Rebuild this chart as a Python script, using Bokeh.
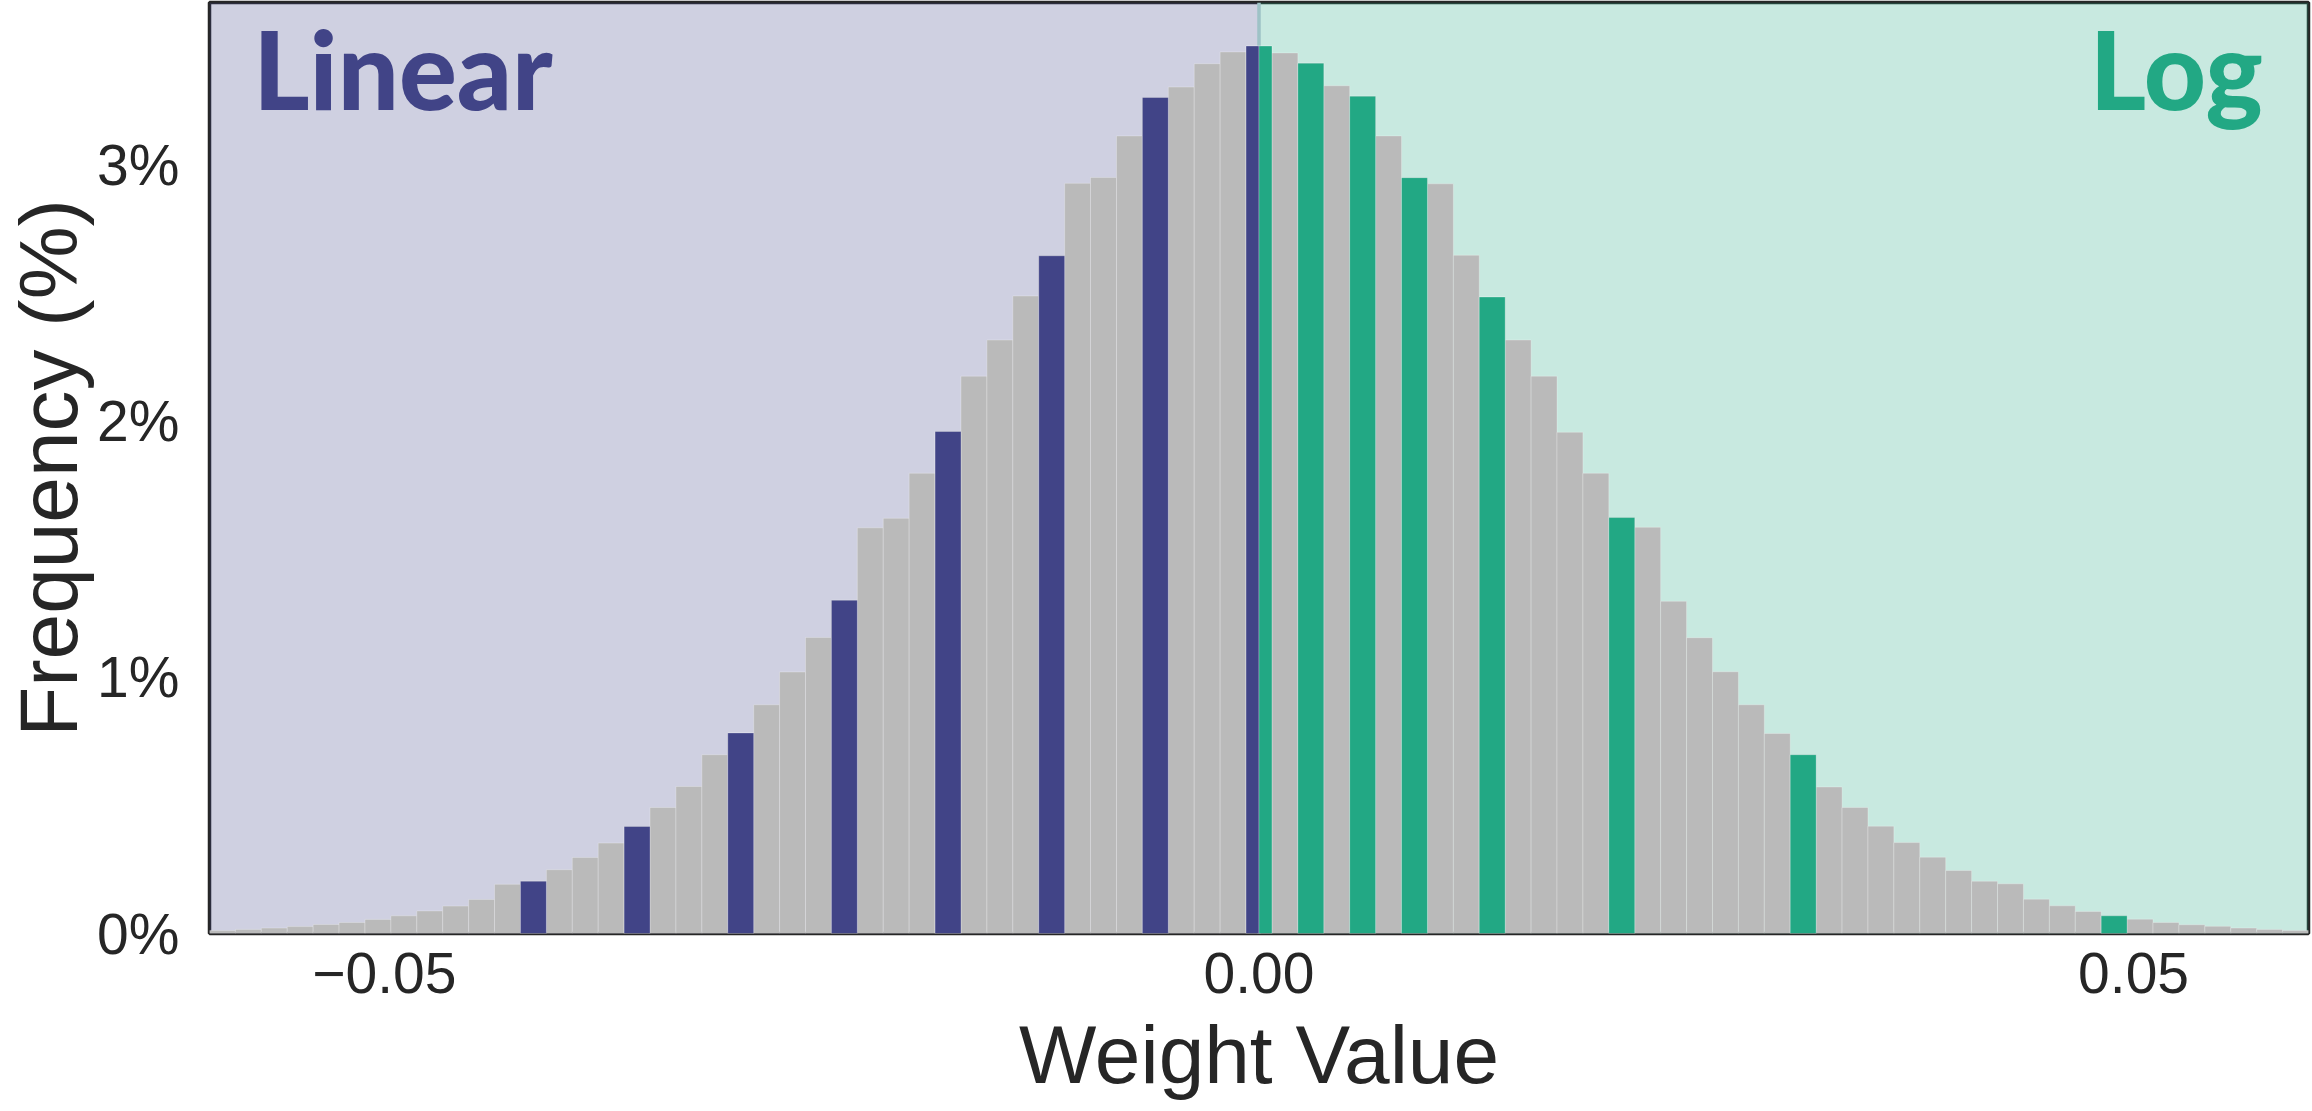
import numpy as np
from bokeh.plotting import figure
from bokeh.models import (Range1d, FixedTicker, CustomJSTickFormatter, BoxAnnotation,
                          Span, ColumnDataSource, Label)
from bokeh.embed import file_html
from bokeh.resources import INLINE

# ---------------- data ----------------
x_min, x_max = -0.06, 0.06
n_bins = 81

# frequency (%) of each histogram bin, left to right
freq = [0.012, 0.016, 0.021, 0.027, 0.035, 0.043, 0.055, 0.069, 0.088, 0.107,
        0.133, 0.192, 0.204, 0.249, 0.297, 0.353, 0.418, 0.492, 0.574, 0.698,
        0.783, 0.893, 1.021, 1.156, 1.301, 1.584, 1.621, 1.797, 1.960, 2.176,
        2.317, 2.489, 2.646, 2.929, 2.952, 3.114, 3.264, 3.305, 3.396, 3.442,
        3.465,
        3.438, 3.398, 3.310, 3.269, 3.114, 2.951, 2.927, 2.648, 2.485, 2.317,
        2.176, 1.957, 1.797, 1.624, 1.586, 1.297, 1.155, 1.022, 0.893, 0.781,
        0.698, 0.572, 0.492, 0.419, 0.355, 0.298, 0.246, 0.204, 0.194, 0.134,
        0.108, 0.086, 0.069, 0.056, 0.043, 0.034, 0.028, 0.021, 0.016, 0.012]

# quantization levels
linear_levels = [-0.0415, -0.0356, -0.0296, -0.0237, -0.0178, -0.0119, -0.0059, 0.0]
log_levels = [0.0, 0.0030, 0.0059, 0.0089, 0.0133, 0.0207, 0.0311, 0.0489]

region_labels = ["Linear", "Log"]

x_ticks = [-0.05, 0.0, 0.05]
y_ticks = [0, 1, 2, 3]
y_max = 3.635

LIN_COLOR = "#414487"
LOG_COLOR = "#22A884"
FONT = "Liberation Sans"
HEAVY_FONT = "Lato Heavy"
TEXT_COLOR = "#262626"

# ---------------- derived ----------------
edges = np.linspace(x_min, x_max, n_bins + 1)
w = edges[1] - edges[0]
freq_arr = np.array(freq)


def level_bars(levels, side):
    left, right, top = [], [], []
    for lv in levels:
        idx = int(round((lv - x_min) / w - 0.5))
        l, r = edges[idx], edges[idx + 1]
        if lv == 0.0:
            mid = 0.5 * (l + r)
            if side == "left":
                r = mid
            else:
                l = mid
        left.append(l)
        right.append(r)
        top.append(freq_arr[idx])
    return dict(left=left, right=right, top=top, bottom=[0] * len(top))


# ---------------- figure ----------------
p = figure(width=2312, height=1111, output_backend="svg", toolbar_location=None,
           x_range=Range1d(x_min, x_max), y_range=Range1d(0, y_max),
           min_border_left=208, min_border_right=4, min_border_top=2,
           min_border_bottom=178)
p.background_fill_color = "white"
p.border_fill_color = "white"
p.grid.visible = False
p.outline_line_color = TEXT_COLOR
p.outline_line_width = 3.5

# background regions
p.add_layout(BoxAnnotation(left=x_min, right=0, fill_color=LIN_COLOR, fill_alpha=0.25,
                           line_color=None, level="underlay"))
p.add_layout(BoxAnnotation(left=0, right=x_max, fill_color=LOG_COLOR, fill_alpha=0.25,
                           line_color=None, level="underlay"))
p.add_layout(Span(location=0, dimension="height", line_color="#9EC2C6",
                  line_width=3.5, level="underlay"))

# histogram
hist_src = ColumnDataSource(dict(left=edges[:-1], right=edges[1:], top=freq,
                                 bottom=[0] * n_bins))
p.quad(left="left", right="right", top="top", bottom="bottom", source=hist_src,
       fill_color="#BABABA", line_color="white", line_alpha=0.25, line_width=1)

# quantization levels
p.quad(source=ColumnDataSource(level_bars(linear_levels, "left")),
       left="left", right="right", top="top", bottom="bottom",
       fill_color=LIN_COLOR, line_color="white", line_alpha=0.25, line_width=1)
p.quad(source=ColumnDataSource(level_bars(log_levels, "right")),
       left="left", right="right", top="top", bottom="bottom",
       fill_color=LOG_COLOR, line_color="white", line_alpha=0.25, line_width=1)

# axes
p.xaxis.ticker = FixedTicker(ticks=x_ticks)
p.yaxis.ticker = FixedTicker(ticks=y_ticks)
p.xaxis.formatter = CustomJSTickFormatter(
    code="return tick < 0 ? '\u2212' + Math.abs(tick).toFixed(2) : tick.toFixed(2);")
p.yaxis.formatter = CustomJSTickFormatter(code="return tick.toFixed(0) + '%';")
p.xaxis.axis_label = "Weight Value"
p.yaxis.axis_label = "Frequency (%)"

for ax in (p.xaxis, p.yaxis):
    ax.axis_line_color = None
    ax.major_tick_line_color = None
    ax.minor_tick_line_color = None
    ax.major_tick_out = 0
    ax.major_tick_in = 0
    ax.major_label_text_font = FONT
    ax.major_label_text_font_size = "57px"
    ax.major_label_text_color = TEXT_COLOR
    ax.axis_label_text_font = FONT
    ax.axis_label_text_font_size = "82px"
    ax.axis_label_text_font_style = "normal"
    ax.axis_label_text_color = TEXT_COLOR

p.xaxis.major_label_standoff = 19
p.xaxis.axis_label_standoff = 13
p.yaxis.major_label_standoff = 30
p.yaxis.axis_label_standoff = 0

# region labels (heavy font family; text_font_style "bold" breaks the svg renderer)
p.add_layout(Label(x=-0.0575, y=3.635, text=region_labels[0],
                   text_font=HEAVY_FONT, text_font_size="108px",
                   text_font_style="normal",
                   text_color=LIN_COLOR, text_align="left", text_baseline="top"))
p.add_layout(Label(x=0.0574, y=3.635, text=region_labels[1],
                   text_font=HEAVY_FONT, text_font_size="108px",
                   text_font_style="normal",
                   text_color=LOG_COLOR, text_align="right", text_baseline="top"))

open("out.html", "w").write(file_html(p, INLINE))
